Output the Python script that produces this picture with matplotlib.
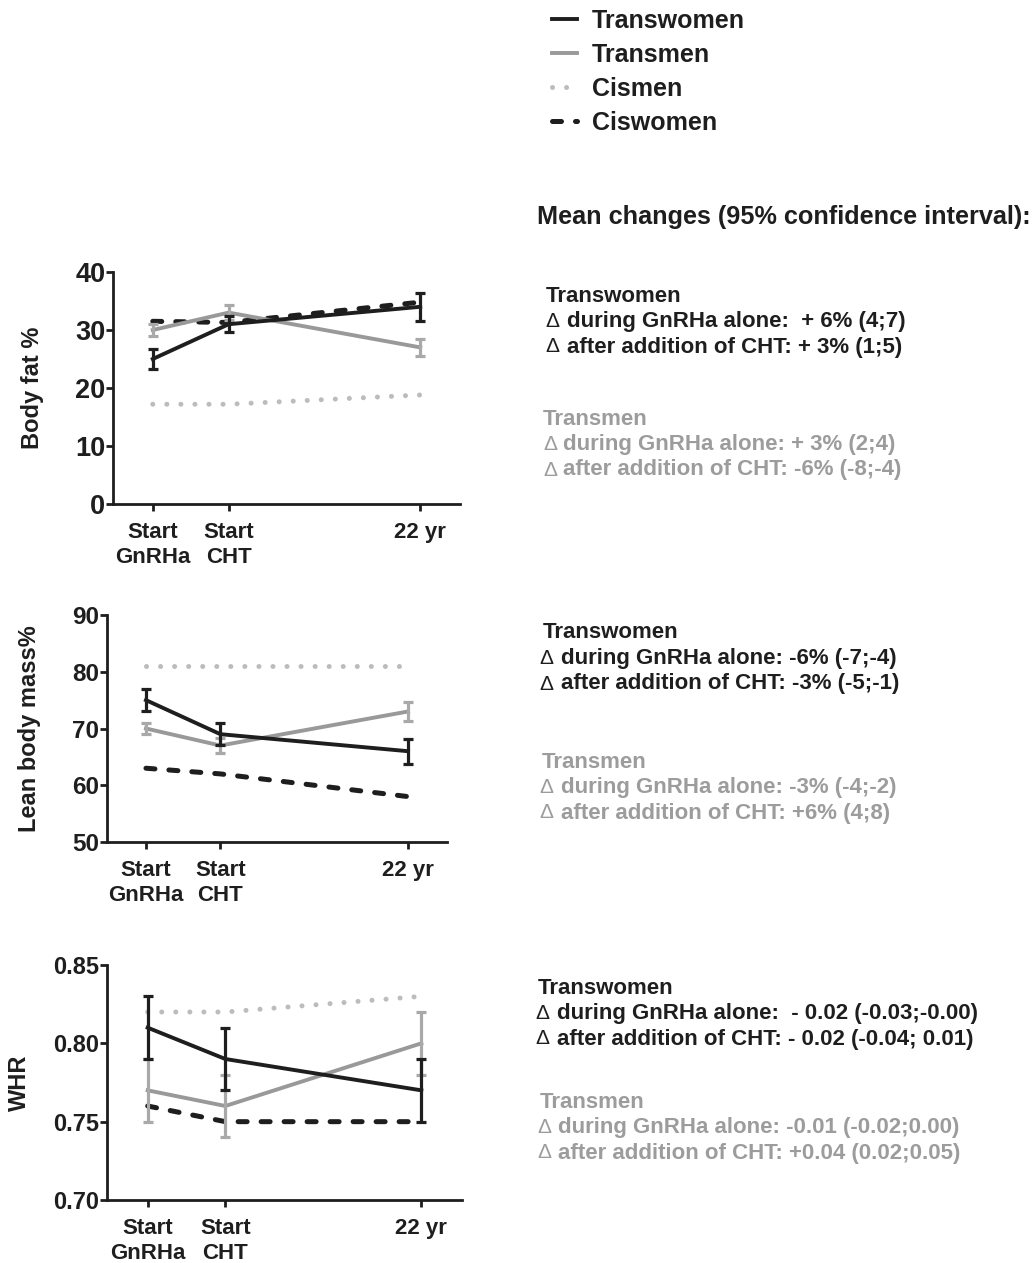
import numpy as np
import matplotlib.pyplot as plt

plt.rcParams['font.family'] = ['Liberation Sans', 'DejaVu Sans']
plt.rcParams['font.weight'] = 'bold'

BLACK = '#1e1e1e'
GREY = '#999999'
GREY_BAR = '#a9a9a9'
DOT = '#bcbcbc'
TXT_GREY = '#9c9c9c'

# time points (age, years) and their labels
x_pos = [14.6, 16.7, 22.0]
x_labels = ['Start\nGnRHa', 'Start\nCHT', '22 yr']

groups = ['Transwomen', 'Transmen', 'Cismen', 'Ciswomen']

# body fat %
fat_tw = [25, 31, 34]
fat_tw_err = [1.8, 1.4, 2.4]
fat_tm = [30, 33, 27]
fat_tm_err = [1.1, 1.3, 1.5]
fat_cm = [17.2, 17.2, 18.8]
fat_cw = [31.5, 31.3, 34.8]

# lean body mass %
lean_tw = [75, 69, 66]
lean_tw_err = [1.9, 1.9, 2.2]
lean_tm = [70, 67, 73]
lean_tm_err = [0.9, 1.3, 1.6]
lean_cm = [81, 81, 81]
lean_cw = [63, 62, 58]

# waist-hip ratio
whr_tw = [0.81, 0.79, 0.77]
whr_tw_err = [0.02, 0.02, 0.02]
whr_tm = [0.77, 0.76, 0.80]
whr_tm_err = [0.02, 0.02, 0.02]
whr_cm = [0.82, 0.82, 0.83]
whr_cw = [0.76, 0.75, 0.75]

# mean change text next to each panel
fat_text = [[' + 6% (4;7)', '+ 3% (1;5)'], ['+ 3% (2;4)', '-6% (-8;-4)']]
lean_text = [['-6% (-7;-4)', '-3% (-5;-1)'], ['-3% (-4;-2)', '+6% (4;8)']]
whr_text = [[' - 0.02 (-0.03;-0.00)', '- 0.02 (-0.04; 0.01)'],
            ['-0.01 (-0.02;0.00)', '+0.04 (0.02;0.05)']]

W, H = 1032, 1263
fig = plt.figure(figsize=(W / 100, H / 100), dpi=100)


def panel(rect, tw, tw_err, tm, tm_err, cm, cw, ylim, yticks, ylabel, fmt,
          labx, ytick_size):
    ax = fig.add_axes(rect)
    l_cm, = ax.plot(x_pos, cm, color=DOT, lw=3.6, dash_capstyle='round',
                    linestyle=(0, (0.01, 2.8)), zorder=2)
    l_cw, = ax.plot(x_pos, cw, color=BLACK, lw=3.6, dash_capstyle='round',
                    linestyle=(0, (1.8, 2.8)), zorder=3)
    l_tm, = ax.plot(x_pos, tm, color=GREY, lw=2.8, zorder=4)
    ax.errorbar(x_pos, tm, yerr=tm_err, fmt='none', ecolor=GREY_BAR,
                elinewidth=2.3, capsize=3.4, capthick=2.3, zorder=4)
    l_tw, = ax.plot(x_pos, tw, color=BLACK, lw=2.8, zorder=5)
    ax.errorbar(x_pos, tw, yerr=tw_err, fmt='none', ecolor=BLACK,
                elinewidth=2.3, capsize=3.4, capthick=2.3, zorder=5)

    ax.set_xlim(13.5, 23.1)
    ax.set_ylim(*ylim)
    ax.set_yticks(yticks)
    ax.set_yticklabels([fmt.format(v) for v in yticks], fontsize=ytick_size)
    ax.set_xticks(x_pos)
    ax.set_xticklabels(x_labels, fontsize=16, linespacing=1.25)
    for s in ['top', 'right']:
        ax.spines[s].set_visible(False)
    for s in ['left', 'bottom']:
        ax.spines[s].set_linewidth(2.0)
        ax.spines[s].set_color(BLACK)
    ax.tick_params(axis='both', direction='out', length=5, width=2.0,
                   color=BLACK, labelcolor=BLACK)
    ax.tick_params(axis='y', pad=0.5)
    ax.tick_params(axis='x', pad=8)
    ax.set_ylabel(ylabel, fontsize=17, fontweight='bold', color=BLACK)
    ax.yaxis.set_label_coords(labx, 0.5)
    return l_tw, l_tm, l_cm, l_cw


def px(x, y):
    return x / W, 1 - y / H


handles = panel([113 / W, 1 - 504 / H, 347 / W, 232 / H],
                fat_tw, fat_tw_err, fat_tm, fat_tm_err, fat_cm, fat_cw,
                (0, 40), [0, 10, 20, 30, 40], 'Body fat %', '{:.0f}',
                -0.2, 19.5)
panel([107 / W, 1 - 842 / H, 340 / W, 227 / H],
      lean_tw, lean_tw_err, lean_tm, lean_tm_err, lean_cm, lean_cw,
      (50, 90), [50, 60, 70, 80, 90], 'Lean body mass%', '{:.0f}', -0.195, 17.5)
panel([107 / W, 1 - 1200 / H, 355 / W, 235 / H],
      whr_tw, whr_tw_err, whr_tm, whr_tm_err, whr_cm, whr_cw,
      (0.70, 0.85), [0.70, 0.75, 0.80, 0.85], 'WHR', '{:.2f}', -0.215, 17)

fig.legend(handles, groups, loc='upper left', bbox_to_anchor=px(552, 9),
           frameon=False, fontsize=18, handlelength=1.0, handletextpad=0.6,
           labelspacing=0.4, borderpad=0, borderaxespad=0,
           labelcolor=BLACK)

fig.text(*px(537, 217), 'Mean changes (95% confidence interval):',
         fontsize=18.2, color=BLACK, va='center', ha='left')

# (name x, delta x, text x, name y) for the two groups of each panel
blocks = [
    (fat_text, [(546, 545, 567, 296), (543, 543, 563, 419)]),
    (lean_text, [(543, 539, 561, 633), (542, 539, 561, 762)]),
    (whr_text, [(538, 535, 557, 988), (540, 537, 558, 1102)]),
]
labels = ['during GnRHa alone: ', 'after addition of CHT: ']
for texts, spots in blocks:
    for g, (nx, dx, tx, ny) in enumerate(spots):
        c = BLACK if g == 0 else TXT_GREY
        fig.text(*px(nx, ny), groups[g], fontsize=16, color=c, va='center')
        for k in range(2):
            yy = ny + 25.5 * (k + 1)
            fig.text(*px(dx, yy), '\u0394', fontsize=15, fontweight='normal',
                     color=c, va='center')
            fig.text(*px(tx, yy), labels[k] + texts[g][k], fontsize=16,
                     color=c, va='center')

fig.savefig('out.png', dpi=100, facecolor='white')
